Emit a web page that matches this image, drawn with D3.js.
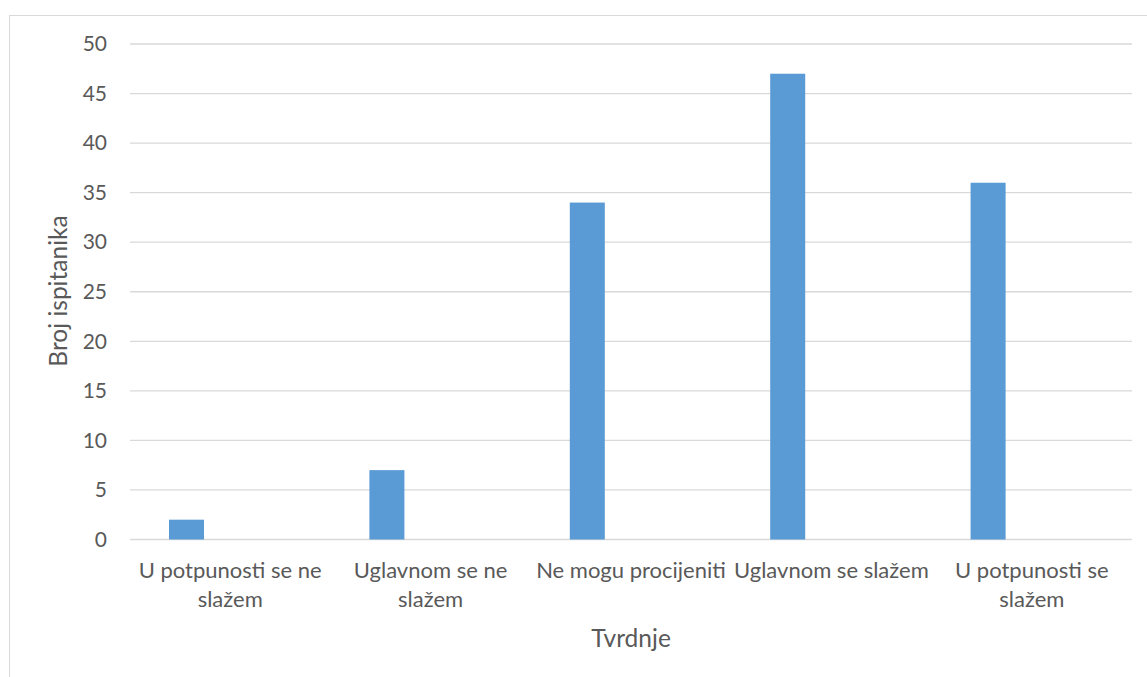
<!DOCTYPE html>
<html>
<head>
<meta charset="utf-8">
<script src="https://cdn.jsdelivr.net/npm/d3@7"></script>
<style>
  html, body { margin: 0; padding: 0; background: #fff; }
  svg { display: block; }
  text { font-family: Lato, "Open Sans", sans-serif; fill: #595959; }
</style>
</head>
<body>
<svg id="chart" width="1147" height="677"></svg>
<script>
const categories = ["U potpunosti se ne slažem", "Uglavnom se ne slažem", "Ne mogu procijeniti", "Uglavnom se slažem", "U potpunosti se slažem"];
const values = [2, 7, 34, 47, 36];
const yTicks = [0, 5, 10, 15, 20, 25, 30, 35, 40, 45, 50];
const yTitle = "Broj ispitanika";
const xTitle = "Tvrdnje";

const W = 1147, H = 677;
const plot = { left: 130, right: 1132, top: 44, bottom: 539.5 };
const svg = d3.select("#chart");

// outer chart border
svg.append("rect")
  .attr("x", 9.5).attr("y", 15.5)
  .attr("width", W + 20).attr("height", H + 20)
  .attr("fill", "none").attr("stroke", "#d9d9d9").attr("stroke-width", 1);

const x = d3.scaleBand().domain(categories).range([plot.left, plot.right]).padding(0);
const y = d3.scaleLinear().domain([0, 50]).range([plot.bottom, plot.top]);

// gridlines
svg.append("g").selectAll("line").data(yTicks).join("line")
  .attr("x1", plot.left).attr("x2", plot.right)
  .attr("y1", d => y(d)).attr("y2", d => y(d))
  .attr("stroke", "#d9d9d9").attr("stroke-width", 1.3);

// y axis labels
const yAxis = d3.axisLeft(y).tickValues(yTicks).tickSize(0).tickPadding(23);
const gy = svg.append("g").attr("transform", `translate(${plot.left},0)`).call(yAxis);
gy.select(".domain").remove();
gy.selectAll("text").attr("font-size", 21).attr("font-family", "Lato").attr("fill", "#595959");

// bars (single series, offset within band like the original clustered layout)
const barOffset = x.bandwidth() * 0.1946;
const barWidth = x.bandwidth() * 0.1747;
svg.append("g").selectAll("rect").data(values).join("rect")
  .attr("x", (d, i) => x(categories[i]) + barOffset)
  .attr("width", barWidth)
  .attr("y", d => y(d))
  .attr("height", d => y(0) - y(d))
  .attr("fill", "#5b9bd5");

// x axis labels with wrapping
const xAxis = d3.axisBottom(x).tickSize(0).tickPadding(0);
const gx = svg.append("g").attr("transform", `translate(0,${plot.bottom})`).call(xAxis);
gx.select(".domain").remove();
gx.selectAll("text").attr("font-size", 22).attr("font-family", "Lato").attr("fill", "#595959")
  .each(function(d) {
    const t = d3.select(this);
    const words = d.split(/\s+/);
    t.text(null).attr("y", 0).attr("dy", null);
    const maxW = x.bandwidth() + 4;
    let line = [];
    let lineNo = 0;
    let tspan = t.append("tspan").attr("x", 0).attr("y", 38.5);
    for (const w of words) {
      line.push(w);
      tspan.text(line.join(" "));
      if (tspan.node().getComputedTextLength() > maxW && line.length > 1) {
        line.pop();
        tspan.text(line.join(" "));
        line = [w];
        lineNo++;
        tspan = t.append("tspan").attr("x", 0).attr("y", 38.5 + lineNo * 29).text(w);
      }
    }
  });

// axis titles
svg.append("text")
  .attr("transform", `translate(67,291) rotate(-90)`)
  .attr("text-anchor", "middle")
  .attr("font-size", 24.5)
  .text(yTitle);

svg.append("text")
  .attr("x", (plot.left + plot.right) / 2).attr("y", 647)
  .attr("text-anchor", "middle")
  .attr("font-size", 24.5)
  .text(xTitle);
</script>
</body>
</html>
